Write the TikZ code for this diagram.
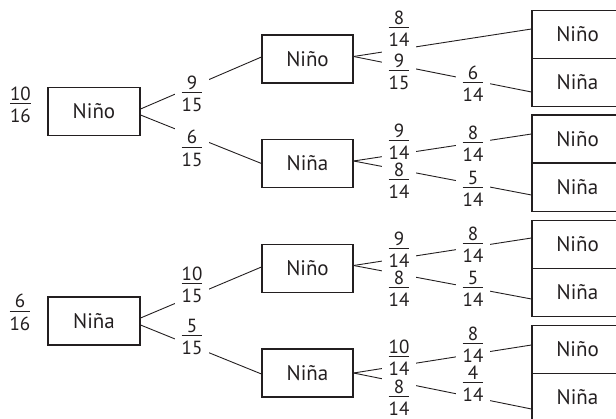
\documentclass[tikz,border=0pt]{standalone}
\usepackage{fontspec}
\setmainfont{PT Sans}
\usetikzlibrary{calc}
\definecolor{ink}{HTML}{231F20}
\newcommand\fr[2]{\vbox{\offinterlineskip\halign{\hfil##\hfil\cr\rule{0pt}{14pt}#1\cr\noalign{\kern3pt\hrule height 0.8pt\kern5pt}\rule{0pt}{13pt}#2\cr}}}
\begin{document}
\begin{tikzpicture}[x=1pt,y=-1pt,
  box/.style={draw=ink,line width=1.1pt,minimum width=91pt,minimum height=48pt,inner sep=0pt,font=\fontsize{21}{24}\selectfont,text=ink},
  frac/.style={fill=white,inner xsep=6.5pt,inner ysep=2pt,font=\fontsize{19}{22}\selectfont,text=ink},
  plain/.style={inner sep=0pt,font=\fontsize{19}{22}\selectfont,text=ink},
  link/.style={draw=ink,line width=0.9pt}]
\useasboundingbox (0,0) rectangle (616,419);
% boxes
\node[box,minimum width=92pt] (r1) at (94,111.5) {Niño};
\node[box,minimum width=92pt] (r2) at (94,321) {Niña};
\node[box] (A) at (307.5,59) {Niño};
\node[box] (B) at (307.5,163.5) {Niña};
\node[box] (C) at (307.5,268.5) {Niño};
\node[box] (D) at (307.5,373) {Niña};
\node[box] (N1) at (577.5,34.5) {Niño};
\node[box] (N2) at (577.5,82.5) {Niña};
\node[box] (N3) at (577.5,139) {Niño};
\node[box] (N4) at (577.5,187.5) {Niña};
\node[box] (N5) at (577.5,244.5) {Niño};
\node[box] (N6) at (577.5,292.5) {Niña};
\node[box] (N7) at (577.5,349.5) {Niño};
\node[box] (N8) at (577.5,397.5) {Niña};
% connectors
\draw[link] ($(r1.east)+(0,-2.5)$) -- ($(A.west)+(0,-2)$);
\draw[link] ($(r1.east)+(0,3.5)$) -- (B.west);
\draw[link] ($(r2.east)+(0,-3)$) -- ($(C.west)+(0,-1.5)$);
\draw[link] ($(r2.east)+(0,4)$) -- ($(D.west)+(0,1)$);
\draw[link] ($(A.east)+(0,-2.5)$) -- ($(N1.west)+(0,-5.5)$);
\draw[link] ($(A.east)+(0,-2.5)$) -- ($(N2.west)+(0,9.5)$);
\draw[link] ($(B.east)+(0,-2.5)$) -- ($(N3.west)+(0,-5)$);
\draw[link] ($(B.east)+(0,-2.5)$) -- ($(N4.west)+(0,7.5)$);
\draw[link] ($(C.east)+(0,-3)$) -- ($(N5.west)+(0,-6.5)$);
\draw[link] ($(C.east)+(0,-3)$) -- ($(N6.west)+(0,6.5)$);
\draw[link] (D.east) -- ($(N7.west)+(0,-4.5)$);
\draw[link] (D.east) -- ($(N8.west)+(0,11.5)$);
% labels
\node[plain] (p1) at (20.5,104.5) {\fr{10}{16}};
\node[plain] (p2) at (20,312) {\fr{6}{16}};
\node[frac] (f1) at (192,93.5) {\fr{9}{15}};
\node[frac] (f2) at (192,148) {\fr{6}{15}};
\node[frac] (f3) at (192,284.5) {\fr{10}{15}};
\node[frac] (f4) at (192,336.5) {\fr{5}{15}};
% group A
\node[frac,inner ysep=4pt] (a2) at (399,71.5) {\fr{9}{15}};
\node[frac,inner ysep=4pt] (a1) at (399,28.5) {\fr{8}{14}};
\node[frac] (a3) at (473,83.5) {\fr{6}{14}};
% group B
\node[frac] (b2) at (399,180.5) {\fr{8}{14}};
\node[frac] (b1) at (399,141.5) {\fr{9}{14}};
\node[frac] (b4) at (473,188.5) {\fr{5}{14}};
\node[frac] (b3) at (473,143.5) {\fr{8}{14}};
% group C
\node[frac] (c2) at (399,288.5) {\fr{8}{14}};
\node[frac] (c1) at (399,249.5) {\fr{9}{14}};
\node[frac] (c4) at (473,288.5) {\fr{5}{14}};
\node[frac] (c3) at (473,244.5) {\fr{8}{14}};
% group D
\node[frac] (d2) at (399,397.5) {\fr{8}{14}};
\node[frac] (d1) at (399,357.5) {\fr{10}{14}};
\node[frac] (d4) at (473,383.5) {\fr{4}{14}};
\node[frac] (d3) at (473,344.5) {\fr{8}{14}};
\end{tikzpicture}
\end{document}
